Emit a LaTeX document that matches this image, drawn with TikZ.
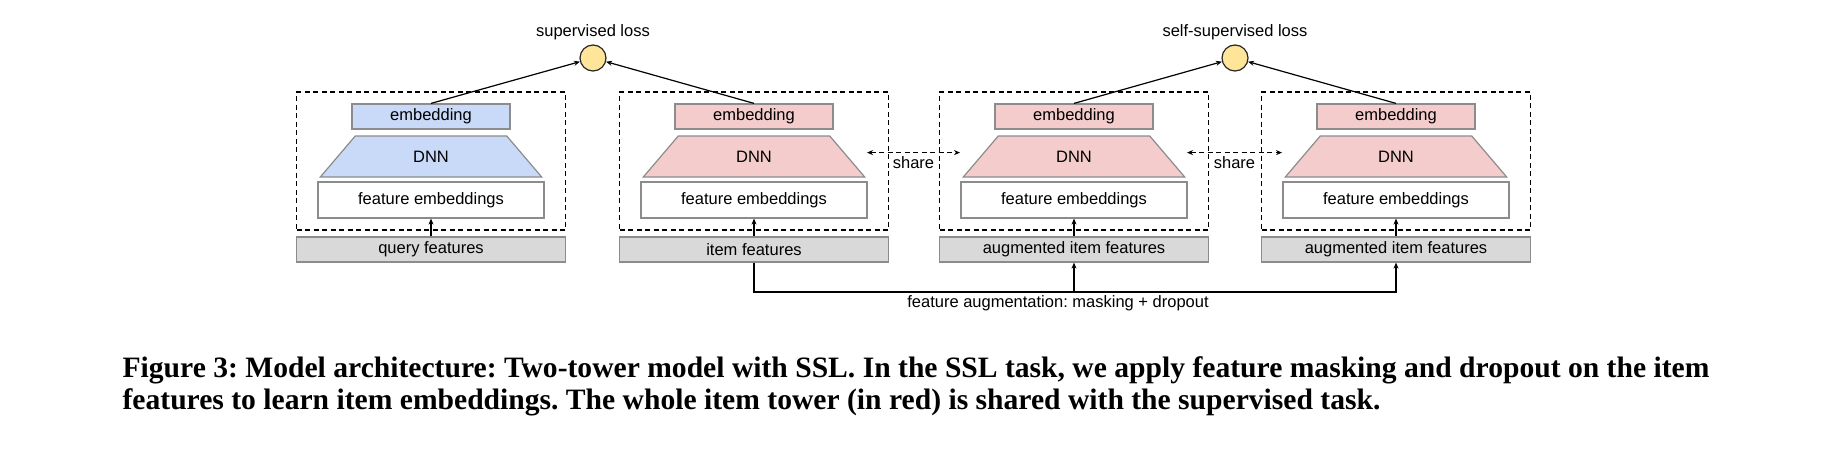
\documentclass[tikz,border=0pt]{standalone}
\usepackage{fontspec}
\setmainfont{Liberation Serif}
\setsansfont{Liberation Sans}
\usepackage{tikz}
\usetikzlibrary{arrows.meta}
\usetikzlibrary{calc}
\usetikzlibrary{positioning}
\usetikzlibrary{shapes.geometric}
\definecolor{qblue}{HTML}{C9DAF8}
\definecolor{ired}{HTML}{F4CCCC}
\definecolor{bargray}{HTML}{D9D9D9}
\definecolor{edgegray}{HTML}{8C8C8C}
\definecolor{lossyellow}{HTML}{FFE599}
\frenchspacing

\begin{document}
\begin{tikzpicture}
	[x=1pt, y=-1pt, line width=1.2pt, >={Stealth[length=6pt,width=5pt]},
	every node/.style={font=\sffamily\fontsize{16.5}{19}\selectfont},
	towerbox/.style={draw, dash pattern=on 5pt off 3.5pt, minimum width=269pt, minimum height=138pt, inner sep=0pt},
	emb/.style={draw=edgegray, minimum width=158pt, minimum height=25pt, inner sep=0pt},
	dnn/.style={draw=edgegray, trapezium, trapezium angle=54, trapezium stretches=true, minimum width=222pt, minimum height=41pt, inner sep=0pt},
	featemb/.style={draw=edgegray, fill=white, minimum width=226pt, minimum height=36pt, inner sep=0pt},
	inbar/.style={draw=edgegray, fill=bargray, minimum width=269pt, minimum height=25pt, inner sep=0pt},
	lossdot/.style={circle, draw=black!85, fill=lossyellow, minimum size=26pt, inner sep=0pt},
	captext/.style={anchor=base west, inner sep=0pt, font=\rmfamily\bfseries\fontsize{29.6}{32}\selectfont}]
	\useasboundingbox (0,0) rectangle (1842,460);
	% losses
	\node[lossdot] (suploss) at (593,58) {};
	\node[anchor=base] (suplabel) at (593,37) {supervised loss};
	\node[lossdot] (ssloss) at (1235,58) {};
	\node[anchor=base] (sslabel) at (1235,37) {self-supervised loss};
	% query tower
	\node[towerbox] (qbox) at (431,161) {};
	\node[emb, fill=qblue] (qemb) at (431,116.5) {embedding};
	\node[dnn, fill=qblue] (qdnn) at (431,156.5) {DNN};
	\node[featemb] (qfe) at (431,200) {feature embeddings};
	\node[inbar] (qin) at (431,249.5) {query features};
	% item tower
	\node[towerbox] (ibox) at (754,161) {};
	\node[emb, fill=ired] (iemb) at (754,116.5) {embedding};
	\node[dnn, fill=ired] (idnn) at (754,156.5) {DNN};
	\node[featemb] (ife) at (754,200) {feature embeddings};
	\node[inbar] (iin) at (754,249.5) {item features};
	% augmented towers
	\node[towerbox] (a1box) at (1074,161) {};
	\node[emb, fill=ired] (a1emb) at (1074,116.5) {embedding};
	\node[dnn, fill=ired] (a1dnn) at (1074,156.5) {DNN};
	\node[featemb] (a1fe) at (1074,200) {feature embeddings};
	\node[inbar] (a1in) at (1074,249.5) {augmented item features};
	\node[towerbox] (a2box) at (1396,161) {};
	\node[emb, fill=ired] (a2emb) at (1396,116.5) {embedding};
	\node[dnn, fill=ired] (a2dnn) at (1396,156.5) {DNN};
	\node[featemb] (a2fe) at (1396,200) {feature embeddings};
	\node[inbar] (a2in) at (1396,249.5) {augmented item features};
	% connectors
	\draw[->] (qin) -- (qfe);
	\draw[->] (iin) -- (ife);
	\draw[->] (a1in) -- (a1fe);
	\draw[->] (a2in) -- (a2fe);
	\draw[->] (qemb.north) -- (suploss);
	\draw[->] (iemb.north) -- (suploss);
	\draw[->] (a1emb.north) -- (ssloss);
	\draw[->] (a2emb.north) -- (ssloss);
	\draw[<->, dash pattern=on 5pt off 3.5pt] ([xshift=1pt,yshift=25pt]idnn.bottom right corner) -- ([xshift=-2pt,yshift=25pt]a1dnn.bottom left corner)
		node[midway, below=3pt, inner sep=0pt] (share1) {share};
	\draw[<->, dash pattern=on 5pt off 3.5pt] ([xshift=1pt,yshift=25pt]a1dnn.bottom right corner) -- ([xshift=-2pt,yshift=25pt]a2dnn.bottom left corner)
		node[midway, below=3pt, inner sep=0pt] (share2) {share};
	\coordinate (augbase) at (754,292);
	\draw[->] (iin.south) -- (augbase) -| (a2in.south);
	\draw[->] (augbase -| a1in.south) -- (a1in.south);
	\node[anchor=north, inner sep=0pt] (augtext) at (1058,295) {feature augmentation: masking + dropout};
	% caption
	\node[captext] (capA) at (122,377) {Figure 3: Model architecture: Two-tower model with SSL. In the SSL task, we apply feature masking and dropout on the item};
	\node[captext] (capB) at (122,409) {features to learn item embeddings. The whole item tower (in red) is shared with the supervised task.};
\end{tikzpicture}
\end{document}
